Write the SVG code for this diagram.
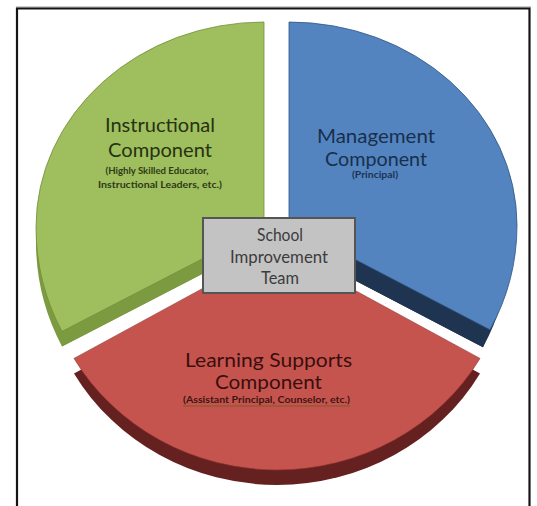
<svg xmlns="http://www.w3.org/2000/svg" width="537" height="506" viewBox="0 0 537 506">
  <style>
    .lbl { font-family: Lato, "Open Sans", "Liberation Sans", sans-serif; font-size: 19px; text-anchor: middle; }
    .sub { font-family: Lato, "Open Sans", "Liberation Sans", sans-serif; font-size: 9.5px; font-weight: bold; text-anchor: middle; }
    .box { font-family: Lato, "Open Sans", "Liberation Sans", sans-serif; font-size: 17px; text-anchor: middle; fill: #3c3c3c; }
  </style>
  <defs>
    <path id="green-face" d="M264,227 L264,22 A228,205 0 0 0 36,227 A228,225 0 0 0 62,331.4 Z"/>
    <path id="blue-face" d="M289,225 L289,22 A228,203 0 0 1 517,225 A228,222 0 0 1 490,329.8 Z"/>
    <path id="red-face" d="M277,248 L480,358.4 A234,222 0 0 1 74,358.4 Z"/>
  </defs>

  <rect width="537" height="506" fill="#ffffff"/>

  <!-- frame -->
  <line x1="16" y1="7" x2="531" y2="7" stroke="#9a9a9a" stroke-width="1"/>
  <path d="M17,512 V8.5 H529.5 V512" fill="none" stroke="#141414" stroke-width="2.2"/>

  <!-- instructional slice -->
  <g id="instructional">
    <use href="#green-face" transform="translate(0,15)" fill="#7c9a40"/>
    <polygon points="264,227 62,331.4 62,346.4 264,242" fill="#7c9a40"/>
    <use href="#green-face" fill="#9fbe5d" stroke="#728f3c" stroke-width="0.8"/>
    <text class="lbl" x="160" y="132" fill="#263212" textLength="110" lengthAdjust="spacingAndGlyphs">Instructional</text>
    <text class="lbl" x="160" y="157" fill="#263212" textLength="104" lengthAdjust="spacingAndGlyphs">Component</text>
    <text class="sub" x="157" y="174" fill="#2e3a18" textLength="103" lengthAdjust="spacingAndGlyphs">(Highly Skilled Educator,</text>
    <text class="sub" x="160" y="188" fill="#2e3a18" textLength="124" lengthAdjust="spacingAndGlyphs">Instructional Leaders, etc.)</text>
  </g>

  <!-- management slice -->
  <g id="management">
    <use href="#blue-face" transform="translate(289,246) scale(0.965) translate(-289,-225)" fill="#1f3450"/>
    <polygon points="289,225 490,329.8 483,347.3 289,246" fill="#1f3450"/>
    <use href="#blue-face" fill="#5384c0" stroke="#2f5480" stroke-width="0.8"/>
    <text class="lbl" x="376" y="143" fill="#18304d" textLength="118" lengthAdjust="spacingAndGlyphs">Management</text>
    <text class="lbl" x="376" y="166" fill="#18304d" textLength="102" lengthAdjust="spacingAndGlyphs">Component</text>
    <text class="sub" x="375" y="178" fill="#1c3352" textLength="46" lengthAdjust="spacingAndGlyphs">(Principal)</text>
  </g>

  <!-- learning supports slice -->
  <g id="learning-supports">
    <use href="#red-face" transform="translate(0,15)" fill="#65211f"/>
    <use href="#red-face" fill="#c5544f" stroke="#8e3330" stroke-width="0.6"/>
    <text class="lbl" x="268.5" y="367" fill="#3a0e0d" textLength="167" lengthAdjust="spacingAndGlyphs">Learning Supports</text>
    <text class="lbl" x="268.5" y="389" fill="#3a0e0d" textLength="107" lengthAdjust="spacingAndGlyphs">Component</text>
    <text class="sub" x="266.5" y="403" fill="#3e1410" textLength="167" lengthAdjust="spacingAndGlyphs">(Assistant Principal, Counselor,  etc.)</text>
    <line x1="183" y1="406" x2="350" y2="406" stroke="#7a5a2c" stroke-width="1"/>
  </g>

  <!-- connectors: none drawn; slices meet at the central box -->
  <g id="connectors"/>

  <!-- central team box -->
  <g id="school-improvement-team">
    <rect x="203" y="218" width="152" height="75" fill="#c3c3c3" stroke="#555555" stroke-width="2"/>
    <text class="box" x="280" y="241" textLength="46" lengthAdjust="spacingAndGlyphs">School</text>
    <text class="box" x="279" y="263" textLength="98" lengthAdjust="spacingAndGlyphs">Improvement</text>
    <text class="box" x="280" y="284" textLength="38" lengthAdjust="spacingAndGlyphs">Team</text>
  </g>
</svg>
